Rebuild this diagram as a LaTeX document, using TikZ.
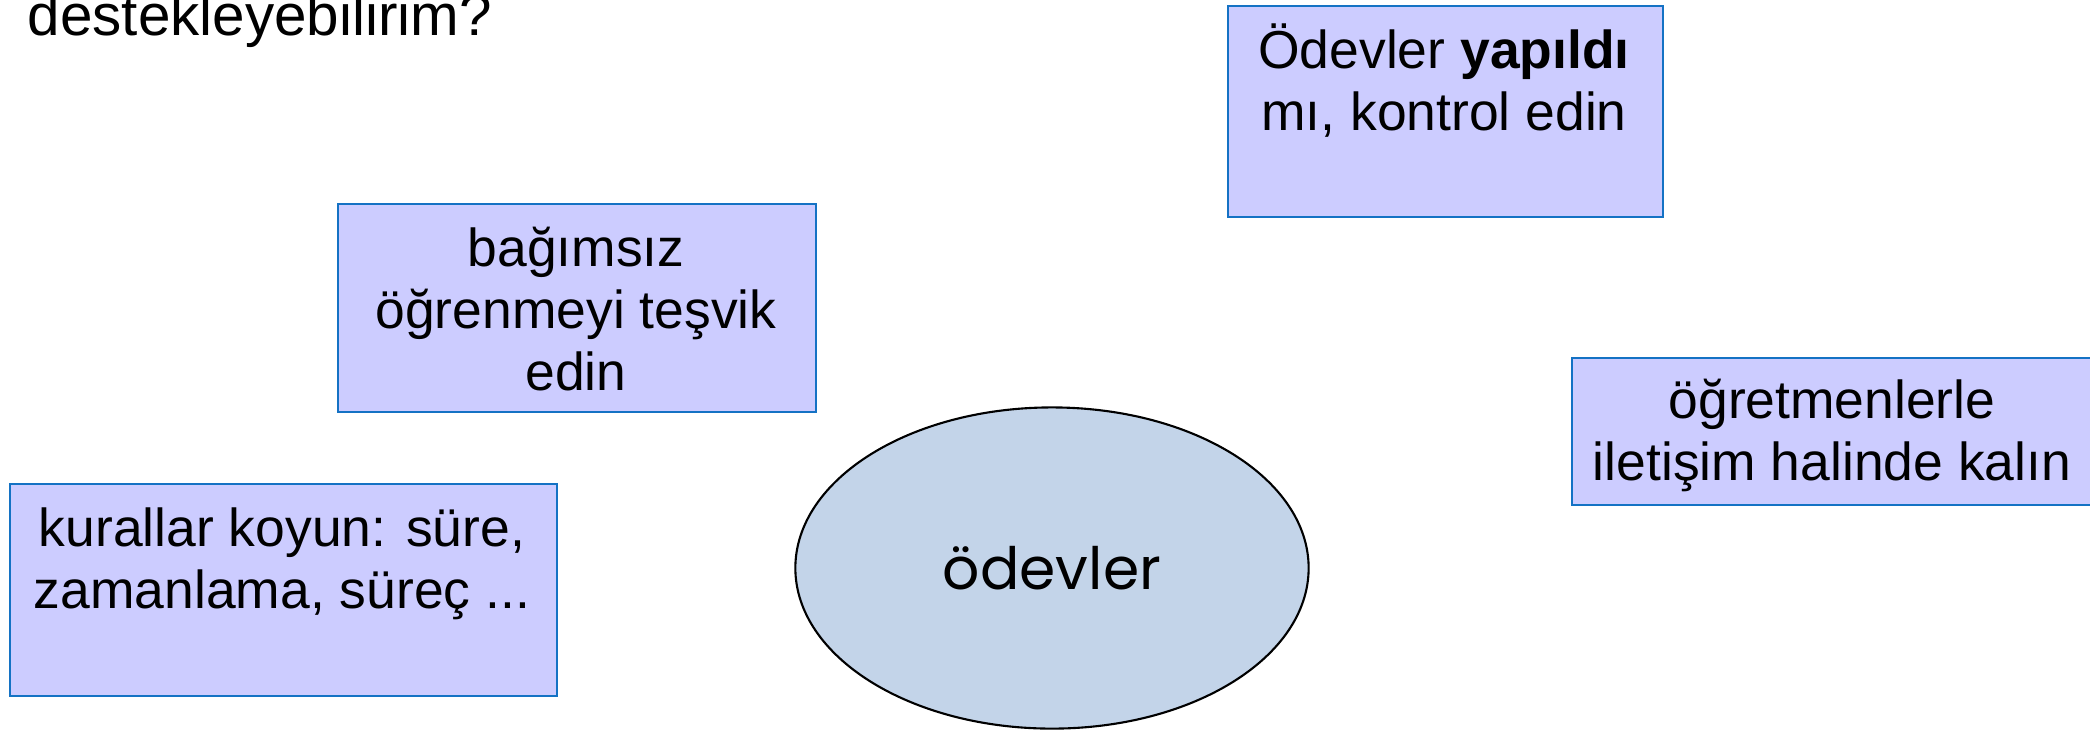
\documentclass[tikz,border=0pt]{standalone}
\usepackage{fontspec}
\setmainfont{Liberation Sans}
\newfontfamily\gothicfont{Poppins}
\usetikzlibrary{shapes.geometric}

\definecolor{tipfill}{RGB}{204,204,255}
\definecolor{tipline}{RGB}{20,114,196}
\definecolor{ovalfill}{RGB}{195,212,233}

\tikzset{
  tipbox/.style={draw=tipline, fill=tipfill, line width=0.6pt, inner sep=0pt, anchor=north west},
  tiptext/.style={align=center, inner sep=0pt, anchor=base, font=\fontsize{15.2}{17.6}\selectfont},
}

\begin{document}
\begin{tikzpicture}[x=0.01cm,y=-0.01cm]
  \useasboundingbox (0,0) rectangle (2090,729);
  % title, cut at the top
  \node[anchor=base west, inner sep=0pt, font=\fontsize{16.6}{20}\selectfont] (title) at (27,35) {destekleyebilirim?};
  % boxes
  \node[tipbox, minimum width=4.35cm, minimum height=2.11cm] (check) at (1227,5) {};
  \node[tipbox, minimum width=4.78cm, minimum height=2.08cm] (self) at (337,203) {};
  \node[tipbox, minimum width=5.30cm, minimum height=1.47cm] (teacher) at (1571,357) {};
  \node[tipbox, minimum width=5.47cm, minimum height=2.12cm] (rules) at (9,483) {};
  % texts, placed on the baseline of their last line
  \node[tiptext] (checktext) at (1444,130) {Ödevler \textbf{yapıldı}\\mı, kontrol edin};
  \node[tiptext] (selftext) at (576,390) {bağımsız\\öğrenmeyi teşvik\\edin};
  \node[tiptext] (teachertext) at (1832,480) {öğretmenlerle\\iletişim halinde kalın};
  \node[tiptext] (rulestext) at (282,608) {kurallar koyun: süre,\\zamanlama, süreç ...};
  % centre
  \node[ellipse, draw, fill=ovalfill, line width=0.6pt, minimum width=5.13cm, minimum height=3.21cm,
        font=\gothicfont\fontsize{16.6}{20}\selectfont] (homework) at (1052,568) {ödevler};
\end{tikzpicture}
\end{document}
